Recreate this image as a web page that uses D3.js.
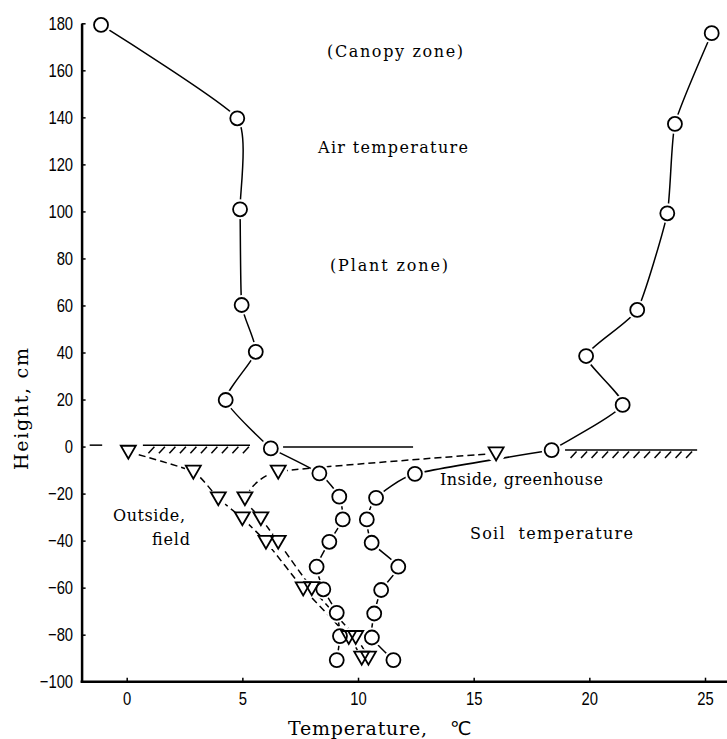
<!DOCTYPE html>
<html><head><meta charset="utf-8">
<script src="https://cdn.jsdelivr.net/npm/d3@7"></script>
<style>body{margin:0;background:#fff} svg{display:block}</style>
</head><body>
<svg id="c" width="727" height="739"></svg>
<script>
// ---------------- data ----------------
const xTicks = [0, 5, 10, 15, 20, 25];
const yTicks = [-100, -80, -60, -40, -20, 0, 20, 40, 60, 80, 100, 120, 140, 160, 180];

// [temperature °C, height cm]
const outsideAir  = [[-1.11,179.3],[4.78,139.6],[4.90,100.9],[4.97,60.2],[5.58,40.3],[4.28,19.8],[6.23,-0.8]];
const outsideSoil = [[6.23,-0.8],[8.33,-11.4],[9.19,-21.3],[9.34,-31.0],[8.76,-40.5],[8.21,-51.1],[8.50,-60.7],[9.08,-70.7],[9.22,-80.6],[9.08,-90.8]];
const insideAir   = [[25.29,175.8],[23.70,137.2],[23.37,99.2],[22.07,58.1],[19.86,38.5],[21.44,17.7],[18.37,-1.5]];
const insideSoil  = [[18.37,-1.5],[12.46,-11.6],[10.78,-21.8],[10.38,-31.0],[10.59,-40.9],[11.74,-51.1],[11.00,-61.0],[10.70,-71.0],[10.60,-81.2],[11.53,-90.8]];
const fieldSoilA  = [[0.07,-2.2],[2.88,-10.7],[3.96,-22.0],[5.00,-30.5],[6.02,-40.5],[7.63,-60.3],[9.60,-81.0],[10.16,-89.8]];
const fieldSoilB  = [[15.97,-2.9],[6.55,-10.7],[5.11,-22.0],[5.80,-30.5],[6.55,-40.5],[8.00,-60.2],[9.90,-81.0],[10.45,-89.8]];

// ground surface segments: [from °C, to °C, height cm]
const hatchedGround = [[0.70,5.33,0.6],[18.95,24.66,-1.5]];
const plainGround   = [[-1.60,-1.06,0.6],[6.76,12.38,-0.2]];

const annotations = ["(Canopy zone)", "Air temperature", "(Plant zone)", "Inside, greenhouse", "Soil  temperature", "Outside,", "field"];
const xTitle = ["Temperature,", "\u2103"];
const yTitle = "Height, cm";

// ---------------- drawing ----------------
const svg = d3.select("#c");
const x = d3.scaleLinear().domain([0, 25]).range([126.7, 705]);
const y = d3.scaleLinear().domain([-100, 180]).range([681.7, 23.3]);
const xLeft = -1.95, xRight = 26;
const serif = "'DejaVu Serif', 'Liberation Serif', serif";
const tickFont = "'Liberation Sans', 'Arimo', sans-serif";
const squeeze = 0.8;

// axes
const gy = svg.append("g").attr("transform", `translate(${x(xLeft)},0)`)
  .call(d3.axisLeft(y).tickValues(yTicks).tickSizeInner(-4).tickSizeOuter(0).tickPadding(8).tickFormat(d3.format("d")));
gy.attr("font-family", tickFont).attr("font-size", 18.5);
gy.select(".domain").attr("stroke-width", 2.5);
gy.selectAll(".tick line").attr("stroke-width", 1.5);
gy.selectAll(".tick text").attr("x", -8.5 / squeeze).attr("transform", `scale(${squeeze},1)`);

const gx = svg.append("g").attr("transform", `translate(0,${y(-100)})`)
  .call(d3.axisBottom(x).tickValues(xTicks).tickSizeInner(-4).tickSizeOuter(0).tickPadding(10).tickFormat(d3.format("d")));
gx.attr("font-family", tickFont).attr("font-size", 18.5);
gx.select(".domain").remove();
gx.selectAll(".tick line").attr("stroke-width", 1.5);
gx.selectAll(".tick text").attr("transform", `scale(${squeeze},1)`);
svg.append("line").attr("x1", x(xLeft) - 1).attr("x2", x(xRight)).attr("y1", y(-100)).attr("y2", y(-100))
  .attr("stroke", "#000").attr("stroke-width", 2.5);

// ground surface
const gg = svg.append("g").attr("stroke", "#000").attr("fill", "none");
hatchedGround.concat(plainGround).forEach(s => {
  gg.append("line").attr("x1", x(s[0])).attr("x2", x(s[1])).attr("y1", y(s[2])).attr("y2", y(s[2])).attr("stroke-width", 1.5);
});
hatchedGround.forEach(s => {
  const yy = y(s[2]);
  for (let px = x(s[0]) + 9; px <= x(s[1]) - 2; px += 10.5) {
    gg.append("line").attr("x1", px - 3.5).attr("y1", yy + 8).attr("x2", px + 2.5).attr("y2", yy + 1.5).attr("stroke-width", 1.5);
  }
});

// profile lines
const line = d3.line().x(d => x(d[0])).y(d => y(d[1])).curve(d3.curveCardinal.tension(0.5));
const gl = svg.append("g").attr("fill", "none").attr("stroke", "#000");
[outsideAir, outsideSoil, insideAir, insideSoil].forEach(s => {
  gl.append("path").attr("d", line(s)).attr("stroke-width", 1.5);
});
[fieldSoilA, fieldSoilB].forEach(s => {
  gl.append("path").attr("d", line(s)).attr("stroke-width", 1.5).attr("stroke-dasharray", "7,4");
});

const circlePts = [].concat(outsideAir, outsideSoil.slice(1), insideAir, insideSoil.slice(1));
const triPts = [].concat(fieldSoilA, fieldSoilB);

// gaps around markers
const gh = svg.append("g").attr("fill", "#fff");
gh.selectAll("circle.c").data(circlePts).join("circle").attr("class", "c")
  .attr("cx", d => x(d[0])).attr("cy", d => y(d[1])).attr("r", 10);
gh.selectAll("circle.t").data(triPts).join("circle").attr("class", "t")
  .attr("cx", d => x(d[0])).attr("cy", d => y(d[1])).attr("r", 9);

// markers
const gm = svg.append("g").attr("stroke", "#000").attr("stroke-width", 1.8);
gm.selectAll("circle").data(circlePts).join("circle")
  .attr("cx", d => x(d[0])).attr("cy", d => y(d[1])).attr("r", 7).attr("fill", "#fff");
gm.selectAll("path").data(triPts).join("path")
  .attr("d", "M-7.5,-6L7.5,-6L0,7Z").attr("fill", "none")
  .attr("transform", d => `translate(${x(d[0])},${y(d[1])})`);

// annotations
const annLayout = [
  {x: 327, y: 56.5, len: 136},
  {x: 318, y: 153, len: 150},
  {x: 330, y: 270.5, len: 118},
  {x: 440, y: 485, len: 163},
  {x: 470, y: 539, len: 163},
  {x: 113, y: 520.5, len: 72},
  {x: 152, y: 545, len: 38}
];
const ga = svg.append("g").attr("font-family", serif).attr("font-size", 16).attr("fill", "#000");
annotations.forEach((t, i) => {
  const L = annLayout[i];
  ga.append("text").attr("x", L.x).attr("y", L.y).attr("textLength", L.len).attr("lengthAdjust", "spacing")
    .style("white-space", "pre").text(t);
});

// axis titles
const xt = svg.append("text").attr("font-family", serif).attr("font-size", 19).attr("y", 735);
xt.append("tspan").attr("x", 288).attr("textLength", 139).attr("lengthAdjust", "spacing").text(xTitle[0]);
xt.append("tspan").attr("x", 450).attr("font-family", "'DejaVu Sans', 'Noto Sans CJK JP', sans-serif").text(xTitle[1]);

svg.append("text").attr("font-family", serif).attr("font-size", 19)
  .attr("transform", "translate(28,470) rotate(-90)")
  .attr("textLength", 122).attr("lengthAdjust", "spacing").text(yTitle);
</script>
</body></html>
